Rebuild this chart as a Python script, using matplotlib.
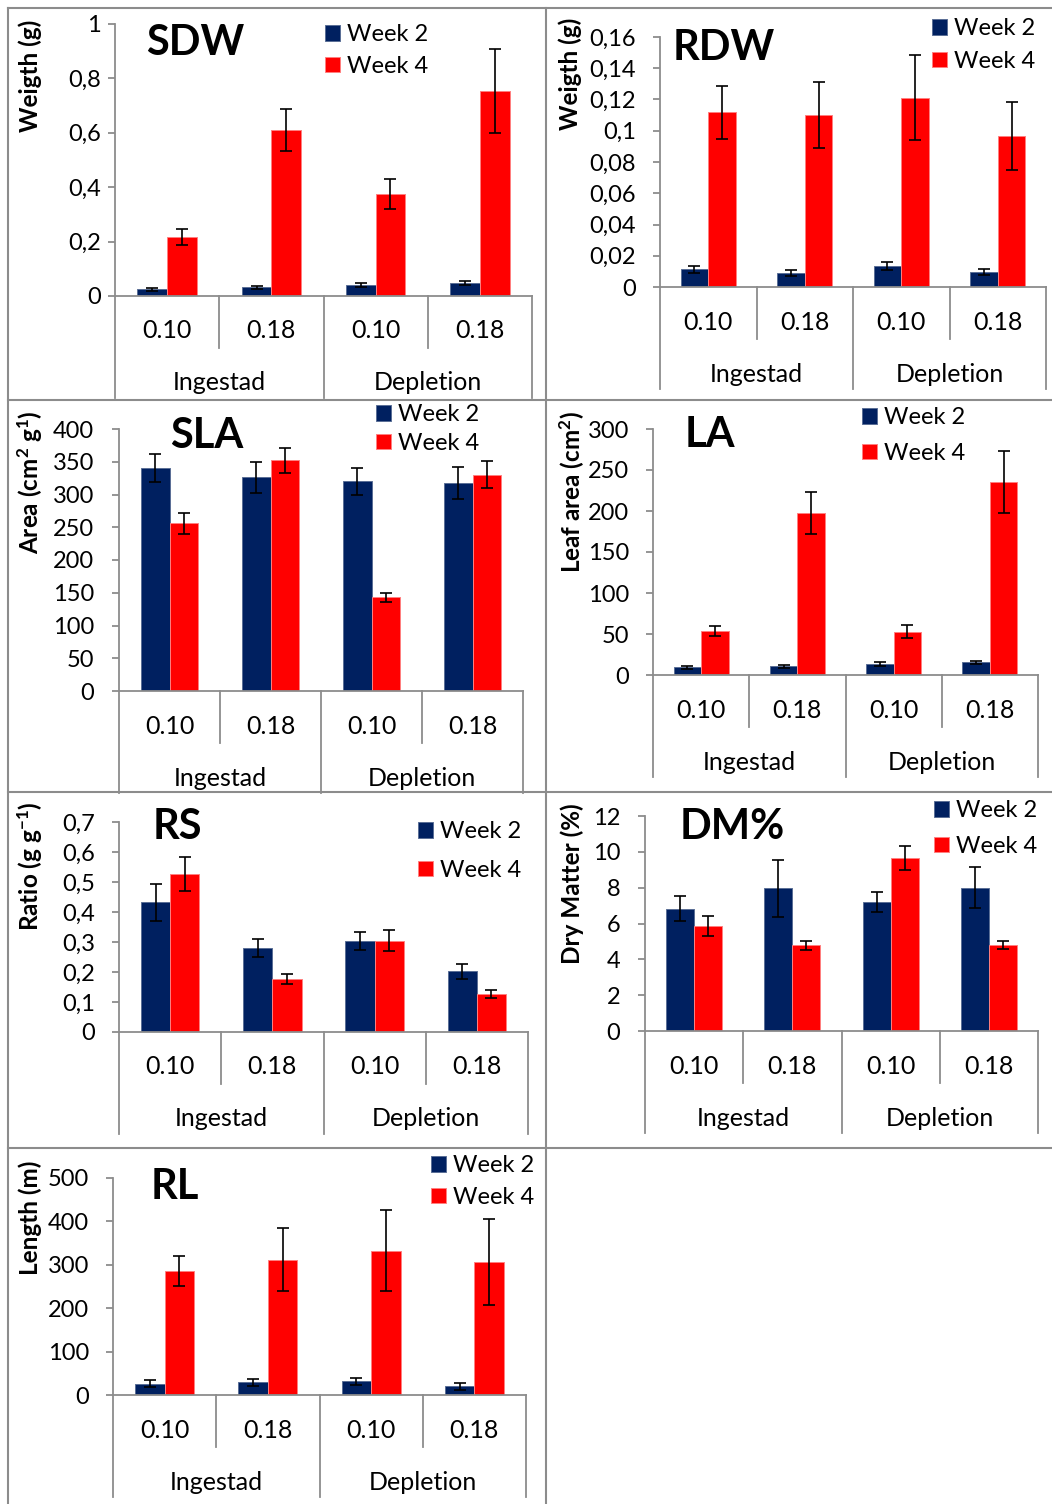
import numpy as np
import matplotlib
matplotlib.use("Agg")
import matplotlib.pyplot as plt
from matplotlib.ticker import MultipleLocator, FuncFormatter
from matplotlib.lines import Line2D

plt.rcParams['font.family'] = ['Lato', 'DejaVu Sans']
plt.rcParams['mathtext.fontset'] = 'custom'
plt.rcParams['mathtext.rm'] = 'Lato'
plt.rcParams['mathtext.bf'] = 'Lato:bold'
plt.rcParams['mathtext.default'] = 'bf'

# categories
levels = ["0.10", "0.18", "0.10", "0.18"]
groups = ["Ingestad", "Depletion"]
weeks = ["Week 2", "Week 4"]

# shoot dry weight (g)
sdw_w2 = [0.025, 0.032, 0.040, 0.047]
sdw_w2_err = [0.005, 0.006, 0.008, 0.007]
sdw_w4 = [0.218, 0.610, 0.376, 0.754]
sdw_w4_err = [0.030, 0.078, 0.055, 0.153]

# root dry weight (g)
rdw_w2 = [0.0113, 0.0092, 0.0134, 0.0096]
rdw_w2_err = [0.0021, 0.0020, 0.0025, 0.0020]
rdw_w4 = [0.1118, 0.1101, 0.1210, 0.0966]
rdw_w4_err = [0.0168, 0.0210, 0.0272, 0.0217]

# specific leaf area (cm2 g-1)
sla_w2 = [340.5, 326.0, 320.0, 317.0]
sla_w2_err = [22.0, 24.0, 20.5, 24.5]
sla_w4 = [256.0, 352.0, 143.0, 330.0]
sla_w4_err = [16.0, 19.0, 6.4, 20.5]

# leaf area (cm2)
la_w2 = [9.3, 10.6, 13.4, 15.4]
la_w2_err = [1.5, 2.0, 2.0, 2.0]
la_w4 = [53.7, 197.6, 52.8, 235.0]
la_w4_err = [6.3, 26.0, 7.7, 38.0]

# root/shoot ratio
rs_w2 = [0.432, 0.281, 0.304, 0.203]
rs_w2_err = [0.063, 0.030, 0.029, 0.025]
rs_w4 = [0.527, 0.177, 0.304, 0.127]
rs_w4_err = [0.057, 0.018, 0.035, 0.013]

# dry matter (%)
dm_w2 = [6.83, 7.96, 7.20, 8.00]
dm_w2_err = [0.70, 1.60, 0.56, 1.14]
dm_w4 = [5.88, 4.78, 9.64, 4.80]
dm_w4_err = [0.56, 0.24, 0.68, 0.20]

# root length (m)
rl_w2 = [26.0, 29.0, 31.4, 20.0]
rl_w2_err = [8.0, 8.5, 8.0, 8.0]
rl_w4 = [286.8, 312.0, 332.8, 306.7]
rl_w4_err = [34.5, 72.5, 94.0, 99.0]

W, H = 1052, 1504
NAVY = '#002060'
RED = '#FF0000'
GREY = '#8C8C8C'

fig = plt.figure(figsize=(W / 100, H / 100), dpi=100)


def comma(v, pos):
    return ('%g' % round(v, 6)).replace('.', ',')


# panel layout in pixels: axis x range, y of zero, y of top, title / legend / ylabel spots
panels = [
    dict(name="SDW", w2=sdw_w2, e2=sdw_w2_err, w4=sdw_w4, e4=sdw_w4_err, ymax=1.0, step=0.2,
         ylabel="Weigth (g)", x0=115, x1=532, y0=296, yt=24, pad=7,
         title=(146, 43), leg=(325, 35, 66), lab=(30, 76)),
    dict(name="RDW", w2=rdw_w2, e2=rdw_w2_err, w4=rdw_w4, e4=rdw_w4_err, ymax=0.16, step=0.02,
         ylabel="Weigth (g)", x0=660, x1=1046, y0=287, yt=37, pad=17,
         title=(673, 48), leg=(932, 29, 61), lab=(570, 74)),
    dict(name="SLA", w2=sla_w2, e2=sla_w2_err, w4=sla_w4, e4=sla_w4_err, ymax=400, step=50,
         ylabel="Area (cm$^2$ g$^1$)", x0=119, x1=523, y0=691, yt=429, pad=18,
         title=(170, 436), leg=(376, 415, 443), lab=(30, 482)),
    dict(name="LA", w2=la_w2, e2=la_w2_err, w4=la_w4, e4=la_w4_err, ymax=300, step=50,
         ylabel="Leaf area (cm$^2$)", x0=653, x1=1038, y0=675, yt=429, pad=17,
         title=(685, 435), leg=(862, 418, 453), lab=(572, 492)),
    dict(name="RS", w2=rs_w2, e2=rs_w2_err, w4=rs_w4, e4=rs_w4_err, ymax=0.7, step=0.1,
         ylabel="Ratio (g g$^{-1}$)", x0=119, x1=528, y0=1032, yt=822, pad=17,
         title=(153, 827), leg=(418, 832, 870), lab=(30, 866)),
    dict(name="DM%", w2=dm_w2, e2=dm_w2_err, w4=dm_w4, e4=dm_w4_err, ymax=12, step=2,
         ylabel="Dry Matter (%)", x0=645, x1=1038, y0=1031, yt=816, pad=18,
         title=(680, 827), leg=(934, 811, 846), lab=(572, 884)),
    dict(name="RL", w2=rl_w2, e2=rl_w2_err, w4=rl_w4, e4=rl_w4_err, ymax=500, step=100,
         ylabel="Length (m)", x0=113, x1=526, y0=1395, yt=1178, pad=17,
         title=(151, 1187), leg=(431, 1166, 1197), lab=(30, 1218)),
]

bw = 0.285
x = np.arange(len(levels)) + 0.5
fs = 17
fpx = fs * 100 / 72.0

for p in panels:
    ax = fig.add_axes([p['x0'] / W, 1 - p['y0'] / H, (p['x1'] - p['x0']) / W, (p['y0'] - p['yt']) / H])
    ekw = dict(ecolor='black', elinewidth=1.2, capsize=4.5, capthick=1.2)
    b2 = ax.bar(x - bw / 2, p['w2'], bw, yerr=p['e2'], color=NAVY, edgecolor='#5A6E96',
                linewidth=0.7, error_kw=ekw, label=weeks[0], zorder=2)
    b4 = ax.bar(x + bw / 2, p['w4'], bw, yerr=p['e4'], color=RED, edgecolor='#FF8080',
                linewidth=0.7, error_kw=ekw, label=weeks[1], zorder=2)
    ax.set_xlim(0, 4)
    ax.set_ylim(0, p['ymax'])
    ax.yaxis.set_major_locator(MultipleLocator(p['step']))
    ax.yaxis.set_major_formatter(FuncFormatter(comma))
    ax.set_xticks([])
    for s in ['top', 'right']:
        ax.spines[s].set_visible(False)
    for s in ['left', 'bottom']:
        ax.spines[s].set_color(GREY)
        ax.spines[s].set_linewidth(1.3)
    ax.tick_params(axis='y', length=5, width=1.3, color=GREY, labelsize=fs, pad=p['pad'] * 0.72)
    ax.patch.set_alpha(0)

    # two-level category axis
    hpx = p['y0'] - p['yt']
    tr = ax.get_xaxis_transform()
    for xi in [1, 3]:
        ax.plot([xi, xi], [0, -52 / hpx], transform=tr, clip_on=False, color=GREY, lw=1.3)
    for xi in [0, 2, 4]:
        ax.plot([xi, xi], [0, -102 / hpx], transform=tr, clip_on=False, color=GREY, lw=1.3)
    for i, lab in enumerate(levels):
        ax.text(x[i], -35 / hpx, lab, transform=tr, ha='center', va='center', fontsize=18)
    for j, g in enumerate(groups):
        ax.text(2 * j + 1, -87 / hpx, g, transform=tr, ha='center', va='center', fontsize=18)

    # title, y label, legend
    tx, ty = p['title']
    fig.text(tx / W, 1 - ty / H, p['name'], fontsize=30, fontweight='bold', ha='left', va='center')
    lx, ly = p['lab']
    fig.text(lx / W, 1 - ly / H, p['ylabel'], fontsize=17.5, fontweight='bold', rotation=90,
             ha='center', va='center')
    gx, g1, g2 = p['leg']
    ls = max(g2 - g1 - 20.6, 0) / fpx
    ax.legend(handles=[b2, b4], loc='center left', bbox_to_anchor=(gx / W, 1 - (g1 + g2) / 2 / H),
              bbox_transform=fig.transFigure, frameon=False, fontsize=fs, handlelength=0.64,
              handleheight=0.64, handletextpad=0.3, borderpad=0, borderaxespad=0, labelspacing=ls)

# cell borders
def hline(y, xa, xb):
    fig.add_artist(Line2D([xa / W, xb / W], [1 - y / H, 1 - y / H], transform=fig.transFigure, color=GREY, lw=1.5))


def vline(xv, ya, yb):
    fig.add_artist(Line2D([xv / W, xv / W], [1 - ya / H, 1 - yb / H], transform=fig.transFigure, color=GREY, lw=1.5))


for yy in [8, 400, 792, 1148]:
    hline(yy, 8, W)
vline(8, 8, H)
vline(546, 8, H)

fig.savefig("out.png", dpi=100)
